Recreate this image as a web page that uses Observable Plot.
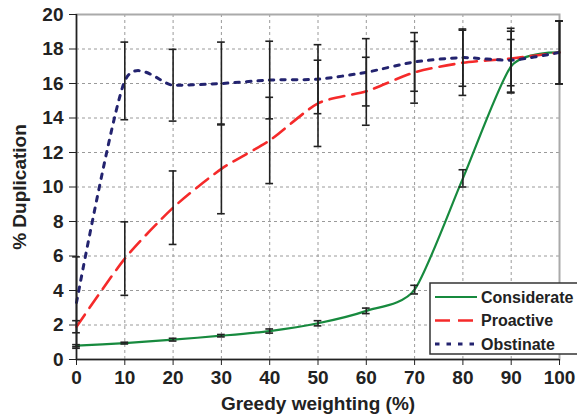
<!DOCTYPE html>
<html><head><meta charset="utf-8">
<script src="https://cdn.jsdelivr.net/npm/d3@7"></script>
<script src="https://cdn.jsdelivr.net/npm/@observablehq/plot@0.6"></script>
<style>
body{margin:0;background:#fff}
#chart{position:relative;width:577px;height:415px}
</style></head><body><div id="chart"></div>
<script>
const weighting = [0,10,20,30,40,50,60,70,80,90,100];
const yTicks = [0,2,4,6,8,10,12,14,16,18,20];
const seriesNames = ["Considerate","Proactive","Obstinate"];
const considerate    = [0.8, 0.95, 1.15, 1.38, 1.65, 2.1, 2.82, 4.05, 10.5, 17.0, 17.8];
const considerateErr = [0.06, 0.05, 0.08, 0.07, 0.12, 0.15, 0.16, 0.25, 0.5, 1.55, 1.82];
const proactive      = [1.9, 5.85, 8.8, 11.05, 12.7, 14.85, 15.55, 16.65, 17.2, 17.45, 17.8];
const proactiveErr   = [0.35, 2.13, 2.13, 2.6, 2.5, 2.5, 1.97, 1.79, 1.89, 1.58, 1.82];
const obstinate      = [3.3, 16.15, 15.9, 16.0, 16.2, 16.25, 16.65, 17.25, 17.5, 17.35, 17.8];
const obstinateErr   = [2.65, 2.25, 2.08, 2.4, 2.25, 2.0, 1.95, 1.7, 1.66, 1.85, 1.82];

const colors = ["#178a3e","#f52a2a","#23236f"];
const dashes = [null, "15,8", "4.5,7"];
const widths = [2.2, 2.6, 3];
const means = [considerate, proactive, obstinate];
const errs = [considerateErr, proactiveErr, obstinateErr];

const rows = [];
seriesNames.forEach((s,i)=>weighting.forEach((x,j)=>rows.push({series:s, x, y:means[i][j], err:errs[i][j]})));

const font = '"Liberation Sans", Arial, sans-serif';
const smooth = d3.curveCardinal.tension(0.3);
const lineMarks = seriesNames.map((s,i)=>Plot.line(rows.filter(d=>d.series===s), {
  x:"x", y:"y", stroke:colors[i], strokeWidth:widths[i], strokeDasharray:dashes[i], curve:smooth
}));

const plot = Plot.plot({
  width:577, height:415, marginLeft:76, marginRight:18, marginTop:14, marginBottom:56,
  style:{fontFamily:font, fontSize:"19px", fontWeight:"bold", color:"#222", background:"#fff"},
  x:{domain:[0,100]},
  y:{domain:[0,20]},
  marks:[
    Plot.gridX(weighting.filter(v=>v>0&&v<100), {stroke:"#9a9a9a", strokeOpacity:1, strokeDasharray:"3,3"}),
    Plot.gridY(yTicks.filter(v=>v>0&&v<20), {stroke:"#9a9a9a", strokeOpacity:1, strokeDasharray:"3,3"}),
    Plot.frame({stroke:"#aaa", strokeWidth:2}),
    Plot.axisX({ticks:weighting, tickSize:6, tickPadding:5, label:"Greedy weighting (%)", labelAnchor:"center", labelArrow:"none", labelOffset:50, fontSize:19}),
    Plot.axisY({ticks:yTicks, tickSize:7, tickPadding:6, label:"% Duplication", labelAnchor:"center", labelArrow:"none", labelOffset:64, fontSize:19}),
    Plot.ruleX([0], {stroke:"#222", strokeWidth:1.5}),
    Plot.ruleY([0], {stroke:"#222", strokeWidth:1.5}),
    ...lineMarks,
    Plot.ruleX(rows, {x:"x", y1:d=>d.y-d.err, y2:d=>d.y+d.err, stroke:"#222", strokeWidth:1.6}),
    Plot.ruleY(rows, {y:d=>d.y-d.err, x1:d=>d.x-0.8, x2:d=>d.x+0.8, stroke:"#222", strokeWidth:1.6}),
    Plot.ruleY(rows, {y:d=>d.y+d.err, x1:d=>d.x-0.8, x2:d=>d.x+0.8, stroke:"#222", strokeWidth:1.6})
  ]
});
document.getElementById("chart").appendChild(plot);

// legend
const svg = d3.select(plot);
const lg = svg.append("g");
lg.append("rect").attr("x",430).attr("y",283).attr("width",160).attr("height",71)
  .attr("fill","#fff").attr("stroke","#333").attr("stroke-width",1.5);
seriesNames.forEach((s,i)=>{
  const y = 297 + i*23.5;
  lg.append("line").attr("x1",435).attr("x2",477).attr("y1",y).attr("y2",y)
    .attr("stroke",colors[i]).attr("stroke-width",widths[i]).attr("stroke-dasharray",dashes[i]);
  lg.append("text").attr("x",481).attr("y",y).attr("dy","0.36em").attr("text-anchor","start")
    .attr("font-family",font).attr("font-weight","bold").attr("font-size",16).attr("fill","#222").text(s);
});
</script></body></html>
